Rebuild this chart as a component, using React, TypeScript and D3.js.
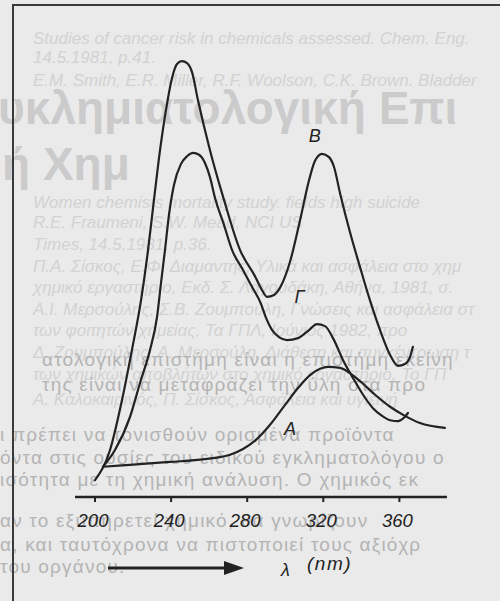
import React from "react";
import * as d3 from "d3";

// wavelength (nm) and relative absorbance
const curveB_nm = [200.0, 207.9, 214.2, 219.4, 224.2, 227.9, 231.0, 234.2, 237.3, 240.5, 243.1, 245.7, 248.4, 251.0, 254.1, 260.4, 267.8, 276.2, 284.1, 287.8, 290.4, 294.1, 297.8, 302.5, 307.8, 312.5, 315.6, 319.3, 323.0, 325.6, 328.8, 334.0, 339.3, 344.5, 349.8, 355.1, 359.3, 362.9, 365.6, 367.1];
const curveB_abs = [3.5, 9.8, 20.2, 30.6, 41.0, 51.5, 61.9, 72.3, 80.6, 87.3, 90.2, 90.8, 90.4, 88.5, 82.7, 72.3, 61.9, 51.5, 46.0, 43.1, 41.7, 42.1, 44.0, 49.0, 57.7, 66.0, 70.0, 71.5, 70.8, 68.8, 63.3, 55.2, 47.9, 41.0, 34.8, 29.6, 27.3, 27.7, 29.2, 31.3];

const curveG_nm = [204.2, 210.5, 218.4, 223.7, 228.9, 232.6, 234.7, 236.8, 238.9, 241.5, 245.2, 248.4, 251.5, 254.7, 257.8, 260.4, 263.1, 267.8, 272.0, 277.8, 282.5, 287.3, 289.9, 293.0, 296.7, 300.9, 306.7, 312.0, 316.7, 320.9, 325.1, 330.4, 335.6, 340.9, 346.1, 350.9, 355.1, 359.3, 362.4, 364.5];
const curveG_abs = [6.3, 9.8, 16.7, 23.8, 30.6, 37.5, 44.6, 51.5, 58.8, 65.0, 69.4, 71.0, 71.7, 71.3, 69.6, 66.7, 62.3, 56.7, 51.5, 47.3, 43.8, 40.2, 37.3, 34.8, 33.3, 32.7, 33.1, 34.6, 36.0, 35.6, 33.1, 28.5, 24.8, 21.3, 18.5, 16.9, 16.0, 15.8, 16.5, 17.5];

const curveA_nm = [204.2, 218.4, 239.4, 257.8, 271.0, 277.8, 284.6, 291.9, 299.9, 306.7, 313.0, 318.3, 322.5, 328.8, 334.0, 340.3, 347.2, 355.1, 362.9, 370.8, 383.9];
const curveA_abs = [6.3, 6.7, 7.3, 7.9, 8.8, 10.0, 11.9, 15.0, 19.2, 22.7, 25.4, 26.7, 27.1, 26.9, 25.8, 23.8, 21.3, 18.8, 16.9, 15.4, 14.4];

const tickValues = [200, 240, 280, 320, 360];
const axisExtent = [189.5, 385];
const curveLabels = ["B", "Γ", "A"];
const labelAt = [[315.5, 75.0], [307.5, 41.5], [302.5, 14.0]];
const axisTitle = "λ";
const axisUnit = "(nm)";

// faint text showing through the scanned page
const bgFaint = [
  "Studies of cancer risk in chemicals assessed. Chem. Eng.",
  "14.5.1981, p.41.",
  "E.M. Smith, E.R. Miller, R.F. Woolson, C.K. Brown. Bladder",
  "Women chemists mortality study. fields high suicide",
  "R.E. Fraumeni, S.W. Mead, NCI US",
  "Times, 14.5.1981, p.36.",
  "Π.Α. Σίσκος, Ε.Φ. Διαμαντής, Υλικά και ασφάλεια στο χημ",
  "χημικό εργαστήριο, Εκδ. Σ. Λαγουδάκη, Αθήνα, 1981, σ.",
  "Α.Ι. Μερσούλης, Σ.Β. Ζουμπούλη, Γνώσεις και ασφάλεια στ",
  "των φοιτητών χημείας, Τα ΓΠΛ, Ιούνιος 1982, προ",
  "Δ. Ζουμπούλης, Α. Μερσούλη, Διάθεση και συγκέντρωση τ",
  "των χημικών αποβλήτων στο χημικό εργαστήριο, Το ΓΠ",
  "Α. Καλοκαιρινός, Π. Σίσκος, Ασφάλεια και υγιεινή",
];
const bgFaintY = [44, 63, 86, 208, 228, 250, 272, 293, 315, 336, 358, 380, 405];
const bgBig = ["υκλημιατολογική Επι", "ή Χημ"];
const bgBigY = [124, 180];
const bgDark = [
  "ατολογική επιστήμη είναι η επιστήμη εκείνη",
  "της είναι να μεταφράζει την ύλη στα προ",
  "ι πρέπει να τονισθούν ορισμένα προϊόντα",
  "όντα στις ουσίες του ειδικού εγκληματολόγου ο",
  "ισότητα με τη χημική ανάλυση. Ο χημικός εκ",
  "αν το εξυπηρετεί χημικό, θα γνωρίζουν",
  "α, και ταυτόχρονα να πιστοποιεί τους αξιόχρ",
  "του οργάνου.",
];
const bgDarkX = [42, 42, 0, 0, 0, 0, 0, 0];
const bgDarkY = [366, 391, 441, 464, 486, 527, 551, 573];

const W = 500;
const H = 601;

export default function App() {
  const x = d3.scaleLinear().domain([200, 360]).range([95, 399.4]);
  const y = d3.scaleLinear().domain([0, 100]).range([497, 17]);
  const line = d3
    .line<[number, number]>()
    .x((d) => x(d[0]))
    .y((d) => y(d[1]))
    .curve(d3.curveMonotoneX);
  const zip = (a: number[], b: number[]) => a.map((v, i) => [v, b[i]] as [number, number]);
  const series = [zip(curveB_nm, curveB_abs), zip(curveG_nm, curveG_abs), zip(curveA_nm, curveA_abs)];
  const ink = "#222";
  const font = "'Liberation Sans', Arial, sans-serif";
  const axisY = y(0);

  return (
    <svg
      width={W}
      height={H}
      style={{ position: "absolute", left: 0, top: 0, background: "#eaeaea" }}
    >
      <rect x={0} y={0} width={W} height={H} fill="#eaeaea" />
      {/* show-through text */}
      <g fontFamily={font}>
        {bgFaint.map((t, i) => (
          <text key={"f" + i} x={33} y={bgFaintY[i]} fontSize={17} fontStyle="italic" fill="#d2d2d2">
            {t}
          </text>
        ))}
        {bgBig.map((t, i) => (
          <text key={"b" + i} x={i === 0 ? -2 : 2} y={bgBigY[i]} fontSize={46} fontWeight="bold" fill="#cbcbcb">
            {t}
          </text>
        ))}
        {bgDark.map((t, i) => (
          <text key={"d" + i} x={bgDarkX[i]} y={bgDarkY[i]} fontSize={19} letterSpacing={1.2} fill="#b4b4b4">
            {t}
          </text>
        ))}
      </g>
      {/* frame */}
      <path d={`M13,${H} L13,5 L${W},5`} fill="none" stroke="#3a3a3a" strokeWidth={2} />
      {/* curves */}
      {series.map((s, i) => (
        <path key={i} d={line(s) || ""} fill="none" stroke={ink} strokeWidth={2.2} strokeLinejoin="round" strokeLinecap="round" />
      ))}
      {/* labels */}
      {curveLabels.map((t, i) => (
        <text
          key={t}
          x={x(labelAt[i][0])}
          y={y(labelAt[i][1])}
          fontFamily={font}
          fontStyle="italic"
          fontSize={18}
          fill={ink}
          textAnchor="middle"
          dominantBaseline="middle"
        >
          {t}
        </text>
      ))}
      {/* x axis */}
      <line x1={x(axisExtent[0])} x2={x(axisExtent[1])} y1={axisY} y2={axisY} stroke={ink} strokeWidth={2.4} />
      {tickValues.map((t) => (
        <g key={t}>
          <line x1={x(t)} x2={x(t)} y1={axisY} y2={axisY + 5} stroke={ink} strokeWidth={2} />
          <text
            x={x(t) - 2}
            y={axisY + 30}
            fontFamily={font}
            fontStyle="italic"
            fontSize={18.5}
            fill={ink}
            textAnchor="middle"
          >
            {t}
          </text>
        </g>
      ))}
      {/* arrow */}
      <line x1={108} x2={228} y1={568} y2={568} stroke={ink} strokeWidth={2.8} />
      <path d="M224,561 L244,568 L224,575 Z" fill={ink} />
      <text x={281} y={576} fontFamily={font} fontStyle="italic" fontSize={18} fill={ink}>
        {axisTitle}
      </text>
      <text x={307} y={570} fontFamily={font} fontStyle="italic" fontSize={19} letterSpacing={1.5} fill={ink}>
        {axisUnit}
      </text>
    </svg>
  );
}
